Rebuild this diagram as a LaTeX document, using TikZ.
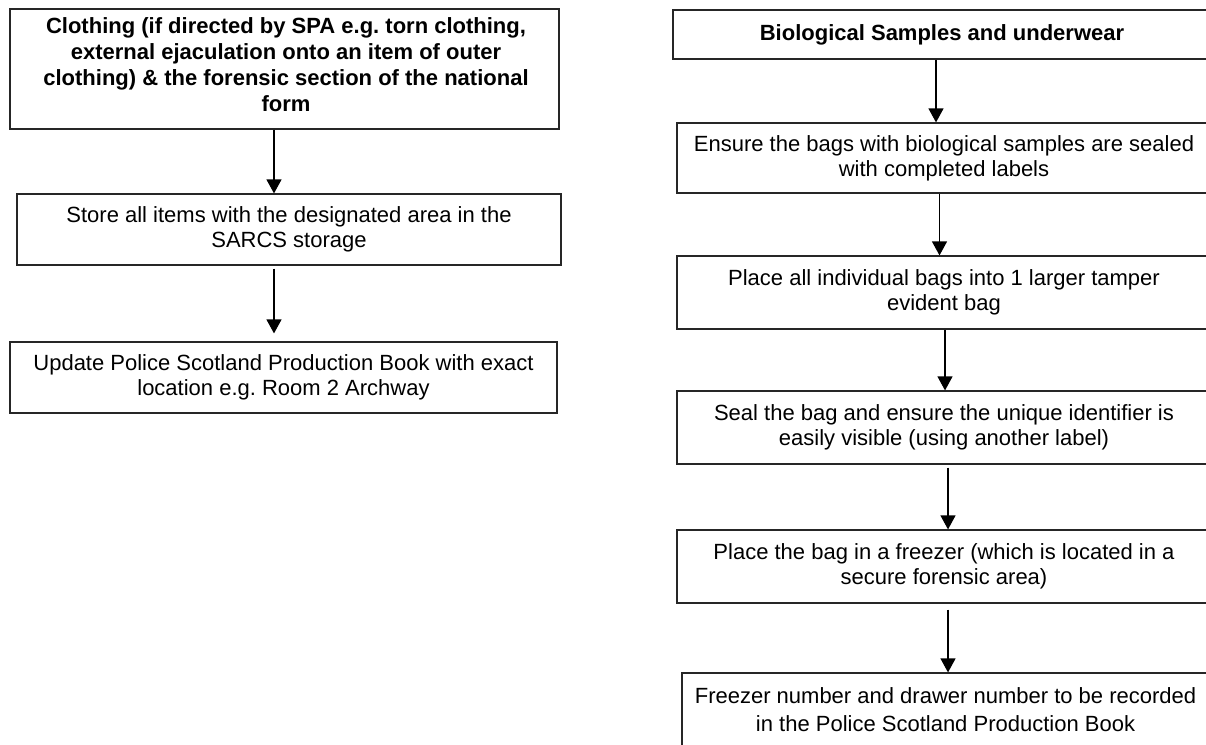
\documentclass[tikz,border=0pt]{standalone}
\usepackage{fontspec}
\setmainfont{Liberation Sans}
\usetikzlibrary{arrows.meta}
\tikzset{
  box/.style={draw=black!85, line width=1.2pt, rectangle, inner sep=0pt, align=center,
    font=\fontsize{22}{25}\selectfont\frenchspacing},
  boldbox/.style={box, font=\fontsize{22}{26}\selectfont\bfseries\frenchspacing},
  boldtext/.style={draw=none, inner sep=0pt, align=center,
    font=\fontsize{22}{26}\selectfont\bfseries\frenchspacing},
  arr/.style={draw=black, line width=1.2pt, -{Triangle[width=15pt,length=14pt]}}
}
\begin{document}
\begin{tikzpicture}[x=1pt,y=-1pt]
\useasboundingbox (0,0) rectangle (1206,744);
\clip (0,0) rectangle (1206,744);
% left column
\node[box, minimum width=549pt, minimum height=120pt] (L1) at (284.5,69) {};
\node[boldtext] (L1t) at (286,64.5)
  {Clothing (if directed by SPA e.g. torn clothing,\\external ejaculation onto an item of outer\\clothing) \& the forensic section of the national\\form};
\node[box, minimum width=544pt, minimum height=71pt] (L2) at (289,229.5)
  {Store all items with the designated area in the\\SARCS storage};
\node[box, minimum width=547pt, minimum height=71pt] (L3) at (283.5,377.5)
  {Update Police Scotland Production Book with exact\\location e.g. Room 2 Archway};
\coordinate (la) at (274,0);
\draw[arr] (L1.south -| la) -- (L2.north -| la);
\draw[arr, shorten <=3pt, shorten >=8pt] (L2.south -| la) -- (L3.north -| la);
% right column
\node[boldbox, minimum width=538pt, minimum height=49pt] (R1) at (942,34.5)
  {Biological Samples and underwear};
\node[box, minimum width=534pt, minimum height=70pt] (R2) at (944,158)
  {Ensure the bags with biological samples are sealed\\with completed labels};
\node[box, minimum width=534pt, minimum height=73pt] (R3) at (944,292.5)
  {Place all individual bags into 1 larger tamper\\evident bag};
\node[box, minimum width=534pt, minimum height=73pt] (R4) at (944,427.5)
  {Seal the bag and ensure the unique identifier is\\easily visible (using another label)};
\node[box, minimum width=534pt, minimum height=73pt] (R5) at (944,566.5)
  {Place the bag in a freezer (which is located in a\\secure forensic area)};
\node[box, minimum width=527pt, minimum height=73pt, font=\fontsize{22}{28}\selectfont] (R6) at (945.5,709.5)
  {Freezer number and drawer number to be recorded\\in the Police Scotland Production Book};
\coordinate (ra1) at (936,0);
\coordinate (ra2) at (939.5,0);
\coordinate (ra3) at (945,0);
\coordinate (ra4) at (948,0);
\draw[arr] (R1.south -| ra1) -- (R2.north -| ra1);
\draw[arr] (R2.south -| ra2) -- (R3.north -| ra2);
\draw[arr] (R3.south -| ra3) -- (R4.north -| ra3);
\draw[arr, shorten <=3pt] (R4.south -| ra4) -- (R5.north -| ra4);
\draw[arr, shorten <=6pt] (R5.south -| ra4) -- (R6.north -| ra4);
\end{tikzpicture}
\end{document}
